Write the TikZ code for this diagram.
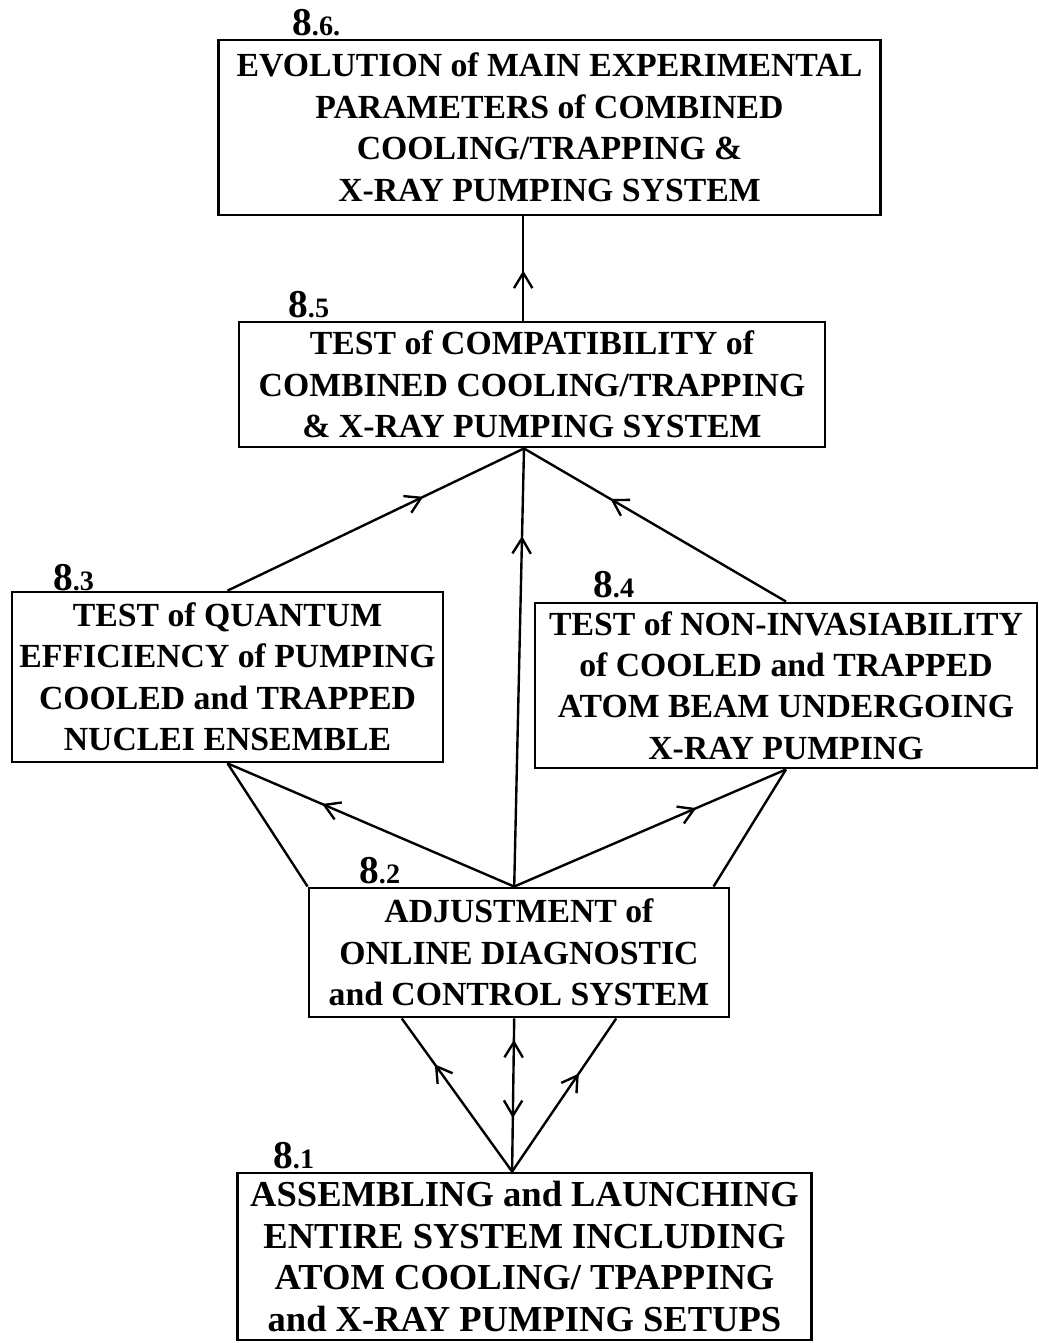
\documentclass[tikz,border=0pt]{standalone}
\usepackage{fontspec}
\setmainfont{Liberation Serif}
\usetikzlibrary{arrows.meta,decorations.markings}

\begin{document}
\begin{tikzpicture}[x=0.025cm, y=-0.025cm,
    box/.style={draw, line width=1.9pt, align=center, inner sep=0pt, font=\fontsize{24}{29.5}\selectfont\bfseries},
    num/.style={anchor=base west, inner sep=0pt, font=\fontsize{28}{28}\selectfont\bfseries},
    link/.style={line width=1.7pt},
    mid/.style={postaction={decorate, decoration={markings, mark=at position #1 with {\arrow{Straight Barb[length=3.8mm,width=4.6mm]}}}}},
    midback/.style={postaction={decorate, decoration={markings, mark=at position #1 with {\arrowreversed{Straight Barb[length=3.8mm,width=4.6mm]}}}}}]

    \fill [white] (0,0) rectangle (1039,1343);
    \useasboundingbox (0,0) rectangle (1039,1343);

    % boxes
    \node [box, minimum width=16.53cm, minimum height=4.38cm] (evol) at (549.5,127.5)
        {EVOLUTION of MAIN EXPERIMENTAL\\ PARAMETERS of COMBINED\\ COOLING/TRAPPING \&\\ X-RAY PUMPING SYSTEM};
    \node [box, minimum width=14.65cm, minimum height=3.13cm] (compat) at (532,384.5)
        {TEST of COMPATIBILITY of\\ COMBINED COOLING/TRAPPING\\ \& X-RAY PUMPING SYSTEM};
    \node [box, minimum width=10.78cm, minimum height=4.25cm] (quant) at (227.5,677)
        {TEST of QUANTUM\\ EFFICIENCY of PUMPING\\ COOLED and TRAPPED\\ NUCLEI ENSEMBLE};
    \node [box, minimum width=12.55cm, minimum height=4.13cm] (noninv) at (786,685.5)
        {TEST of NON-INVASIABILITY\\ of COOLED and TRAPPED\\ ATOM BEAM UNDERGOING\\ X-RAY PUMPING};
    \node [box, minimum width=10.5cm, minimum height=3.23cm] (adj) at (519,952.5)
        {ADJUSTMENT of\\ ONLINE DIAGNOSTIC\\ and CONTROL SYSTEM};
    \node [box, minimum width=14.33cm, minimum height=4.18cm, font=\fontsize{26}{29.5}\selectfont\bfseries] (assem) at (524.5,1256.5)
        {ASSEMBLING and LAUNCHING\\ ENTIRE SYSTEM INCLUDING\\ ATOM COOLING/ TPAPPING\\ and X-RAY PUMPING SETUPS};

    % numbers
    \node [num] (n6) at (292,35) {8{\fontsize{20}{20}\selectfont .6.}};
    \node [num] (n5) at (288,317) {8{\fontsize{20}{20}\selectfont .5}};
    \node [num] (n3) at (53,590) {8{\fontsize{20}{20}\selectfont .3}};
    \node [num] (n4) at (593,597) {8{\fontsize{20}{20}\selectfont .4}};
    \node [num] (n2) at (359,883) {8{\fontsize{20}{20}\selectfont .2}};
    \node [num] (n1) at (273,1168) {8{\fontsize{20}{20}\selectfont .1}};

    % junctions
    \coordinate (ctop) at ([xshift=-0.22cm]compat.north);
    \coordinate (cbot) at ([xshift=-0.2cm]compat.south);
    \coordinate (atop) at ([xshift=-0.12cm]adj.north);
    \coordinate (atopr) at ([xshift=-0.42cm]adj.north east);
    \coordinate (abotl) at ([xshift=-2.93cm]adj.south);
    \coordinate (abotm) at ([xshift=-0.12cm]adj.south);
    \coordinate (abotr) at ([xshift=2.43cm]adj.south);
    \coordinate (stop) at ([xshift=-0.31cm]assem.north);

    \draw [link, mid=0.48] (ctop) -- (ctop |- evol.south);

    \draw [link, mid=0.66] (quant.north) -- (cbot);
    \draw [link, mid=0.80] (atop) -- (cbot);
    \draw [link, mid=0.67] (noninv.north) -- (cbot);

    \draw [link, mid=0.67] (atop) -- (quant.south);
    \draw [link] (adj.north west) -- (quant.south);
    \draw [link, mid=0.67] (atop) -- (noninv.south);
    \draw [link] (atopr) -- (noninv.south);

    \draw [link, mid=0.70] (stop) -- (abotl);
    \draw [link, mid=0.86, midback=0.35] (stop) -- (abotm);
    \draw [link, mid=0.64] (stop) -- (abotr);
\end{tikzpicture}
\end{document}
